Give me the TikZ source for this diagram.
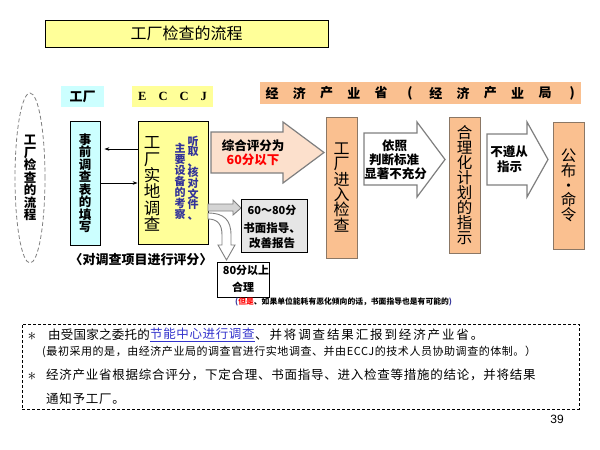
\documentclass[tikz,border=0pt]{standalone}
\usepackage{fontspec}
\setmainfont{Liberation Sans}
\newfontfamily\cjk{Noto Sans CJK SC}
\newfontfamily\tnr{Liberation Serif}
\usetikzlibrary{shapes.geometric,arrows.meta}
\definecolor{ttl}{HTML}{FFFF99}
\definecolor{cyn}{HTML}{CCFFFF}
\definecolor{pch}{HTML}{FAC090}
\definecolor{pchl}{HTML}{FCE0CC}
\definecolor{pchb}{HTML}{8B7765}
\definecolor{purp}{HTML}{333399}
\definecolor{gbor}{HTML}{7F7F7F}
\definecolor{gbox}{HTML}{E6E6E6}
\definecolor{garr}{HTML}{D4D4D4}
\definecolor{lnk}{HTML}{3333CC}
\definecolor{rd}{HTML}{FF0000}
\newcommand\fs[2]{\fontsize{#1}{#2}\selectfont}
\newcommand\lbfont{\cjk\bfseries\fs{12.5}{12.5}}
\newcommand\hdfont{\cjk\bfseries\fs{13}{13}}
\newcommand\lineA{\cjk\addfontfeature{LetterSpace=2}\fs{12.5}{12.5}}
\newcommand\lineB{\cjk\addfontfeature{LetterSpace=5}\fs{12.5}{12.5}}
\newcommand\lineC{\cjk\addfontfeature{LetterSpace=15}\fs{12.5}{12.5}}
\newcommand\lineD{\cjk\addfontfeature{LetterSpace=5}\fs{11}{11}}
\newcommand\lineE{\cjk\addfontfeature{LetterSpace=6}\fs{12.5}{12.5}}
\begin{document}
\begin{tikzpicture}[x=1pt,y=-1pt,
  box/.style={draw, line width=0.8pt, inner sep=0pt, anchor=center},
  pbox/.style={draw=pchb, fill=pch, line width=0.8pt, inner sep=0pt, align=center},
  vb/.style={align=center, inner sep=0pt, font=\lbfont},
  txt/.style={inner sep=0pt, font=\lbfont},
  hd/.style={inner sep=0pt, font=\hdfont},
  blockarrow/.style={draw=gbor, line width=1.2pt, line join=miter},
  thinarrow/.style={-{Stealth[length=5pt,width=3.5pt]}, line width=0.6pt}
]
\useasboundingbox (0,0) rectangle (600,450);

% title
\node[box, fill=ttl, minimum width=283, minimum height=27, font=\cjk\fs{16}{16}] (title) at (186.5,33.5) {工厂检查的流程};

% column labels
\node[fill=cyn, minimum width=43, minimum height=21, inner sep=0pt, font=\hdfont] (lfac) at (82.5,96.5) {工厂};
\node[fill=ttl, minimum width=81, minimum height=21, inner sep=0pt, font=\tnr\bfseries\fs{12.5}{12.5}] (leccj) at (172.5,96.5) {E\hspace{12pt}C\hspace{12pt}C\hspace{12pt}J};
\node[fill=pch, minimum width=321, minimum height=22, inner sep=0pt] (lmeti) at (420.5,93) {};
\node[hd] (lm0) at (272,93) {经};
\node[hd] (lm1) at (299.3,93) {济};
\node[hd] (lm2) at (326.6,93) {产};
\node[hd] (lm3) at (353.9,93) {业};
\node[hd] (lm4) at (381.2,93) {省};
\node[hd] (lm5) at (410,93) {(};
\node[hd] (lm6) at (435.8,93) {经};
\node[hd] (lm7) at (463.1,93) {济};
\node[hd] (lm8) at (490.4,93) {产};
\node[hd] (lm9) at (517.7,93) {业};
\node[hd] (lm10) at (545,93) {局};
\node[hd] (lm11) at (572.3,93) {)};

% ellipse
\node[draw=gbor, dashed, dash pattern=on 4pt off 2.5pt, line width=0.8pt, ellipse, minimum width=30, minimum height=170, inner sep=1pt, align=center, font=\lbfont] (ell) at (30,178) {工\\厂\\检\\查\\的\\流\\程};

% factory pre-survey
\node[box, fill=cyn, minimum width=30, minimum height=124, vb] (pre) at (85,183) {事\\前\\调\\查\\表\\的\\填\\写};

% ECCJ site survey
\node[box, fill=ttl, minimum width=70, minimum height=123] (site) at (173,182.5) {};
\node[align=center, inner sep=0pt, font=\cjk\fs{16.5}{16.4}] (sitet) at (152,184) {工\\厂\\实\\地\\调\\查};
\node[align=center, inner sep=0pt, text=purp, font=\cjk\bfseries\fs{11}{10.6}] (hear) at (193,178) {听\\取\\、\\核\\对\\文\\件\\、};
\node[align=center, inner sep=0pt, text=purp, font=\cjk\bfseries\fs{11}{11}] (main) at (180,181) {主\\要\\设\\备\\的\\考\\察};

\coordinate (ya) at (0,149);
\coordinate (yb) at (0,183);
\draw[thinarrow] (site.west |- ya) -- ([xshift=4pt]pre.east |- ya);
\draw[thinarrow] (pre.east |- yb) -- (site.west |- yb);

\node[txt, font=\hdfont] (score) at (141,260) {〈对调查项目进行评分〉};

% block arrow: below 60
\draw[blockarrow, fill=pchl] (211,132) -- (283,132) -- (283,122) -- (324,152.5) -- (283,183) -- (283,173) -- (211,173) -- cycle;
\node[txt] (a1a) at (253,146) {综合评分为};
\node[txt, text=rd] (a1b) at (253,160) {60分以下};

% small gray arrow to 60-80
\draw[draw=gbor, line width=0.9pt, fill=garr] (208,204) -- (233,204) -- (233,200) -- (241,208) -- (233,215) -- (233,211) -- (208,211) -- cycle;
\node[box, fill=gbox, minimum width=66, minimum height=53] (mid) at (274.5,225.5) {};
\node[txt, font=\cjk\bfseries\fs{11}{11}] (mida) at (272,210) {60～80分};
\node[align=center, inner sep=0pt, font=\cjk\bfseries\fs{11.5}{15}] (midb) at (272,235.5) {书面指导、\\改善报告};

% bent arrow to 80+
\draw[draw=gbor, line width=0.9pt, fill=white] (208,213) .. controls (224,213) and (231,220) .. (231,235) -- (231,245) -- (235,245) -- (226.5,260) -- (218,245) -- (222,245) -- (222,235) .. controls (222,225) and (218,219) .. (208,219) -- cycle;
\node[box, fill=white, minimum width=52, minimum height=35] (ok) at (243.5,279.5) {};
\node[txt, font=\cjk\bfseries\fs{11}{11}] (oka) at (246,270.5) {80分以上};
\node[txt, font=\cjk\bfseries\fs{11}{11}] (okb) at (243,287.5) {合理};

\node[anchor=west, inner sep=0pt, font=\cjk\bfseries\fs{7.8}{7.8}] (note) at (235,302) {\textcolor{purp}{(}\textcolor{rd}{但是}、如果单位能耗有恶化倾向的话，书面指导也是有可能的\textcolor{purp}{)}};

% METI column
\node[pbox, minimum width=31, minimum height=141, font=\cjk\fs{16}{15.3}] (enter) at (341.5,187.5) {工\\厂\\进\\入\\检\\查};
\draw[blockarrow, fill=white] (364,133) -- (417,133) -- (417,122) -- (445,159.5) -- (417,197) -- (417,185) -- (364,185) -- cycle;
\node[txt] (a2a) at (394.5,146) {依照};
\node[txt] (a2b) at (394,160) {判断标准};
\node[txt] (a2c) at (395.5,174) {显著不充分};
\node[pbox, minimum width=31, minimum height=136, font=\cjk\fs{15.5}{15}] (plan) at (464.5,185) {合\\理\\化\\计\\划\\的\\指\\示};
\draw[blockarrow, fill=white] (487,134) -- (527,134) -- (527,122) -- (548,159.5) -- (527,197) -- (527,185) -- (487,185) -- cycle;
\node[txt] (a3a) at (509,152) {不遵从};
\node[txt] (a3b) at (509.5,167) {指示};
\node[pbox, minimum width=31, minimum height=127, font=\cjk\fs{15.5}{14.6}] (pub) at (568.5,185.5) {公\\布\\・\\命\\令};

% notes box
\node[draw, dashed, dash pattern=on 3pt off 2pt, line width=0.7pt, minimum width=557, minimum height=85, inner sep=0pt] (notes) at (300.5,366.5) {};
\node[inner sep=0pt, font=\fs{17}{17}] (st1) at (32,336) {$\ast$};
\node[anchor=west, inner sep=0pt, font=\lineA] (l1a) at (48,335) {由受国家之委托的};
\node[anchor=west, inner sep=0pt, font=\lineB, text=lnk] (l1b) at (150,335) {\underline{节能中心进行调查}};
\node[anchor=west, inner sep=0pt, font=\lineC] (l1c) at (255,335) {、并将调查结果汇报到经济产业省。};
\node[anchor=west, inner sep=0pt, font=\lineD] (l2) at (42,352) {(最初采用的是，由经济产业局的调查官进行实地调查、并由ECCJ的技术人员协助调查的体制。）};
\node[inner sep=0pt, font=\fs{17}{17}] (st2) at (32,376) {$\ast$};
\node[anchor=west, inner sep=0pt, font=\lineE] (l3) at (46,375) {经济产业省根据综合评分，下定合理、书面指导、进入检查等措施的结论，并将结果};
\node[anchor=west, inner sep=0pt, font=\lineE] (l4) at (46,399) {通知予工厂。};
\node[inner sep=0pt, font=\fs{12}{12}] (pg) at (557,419) {39};
\end{tikzpicture}
\end{document}
